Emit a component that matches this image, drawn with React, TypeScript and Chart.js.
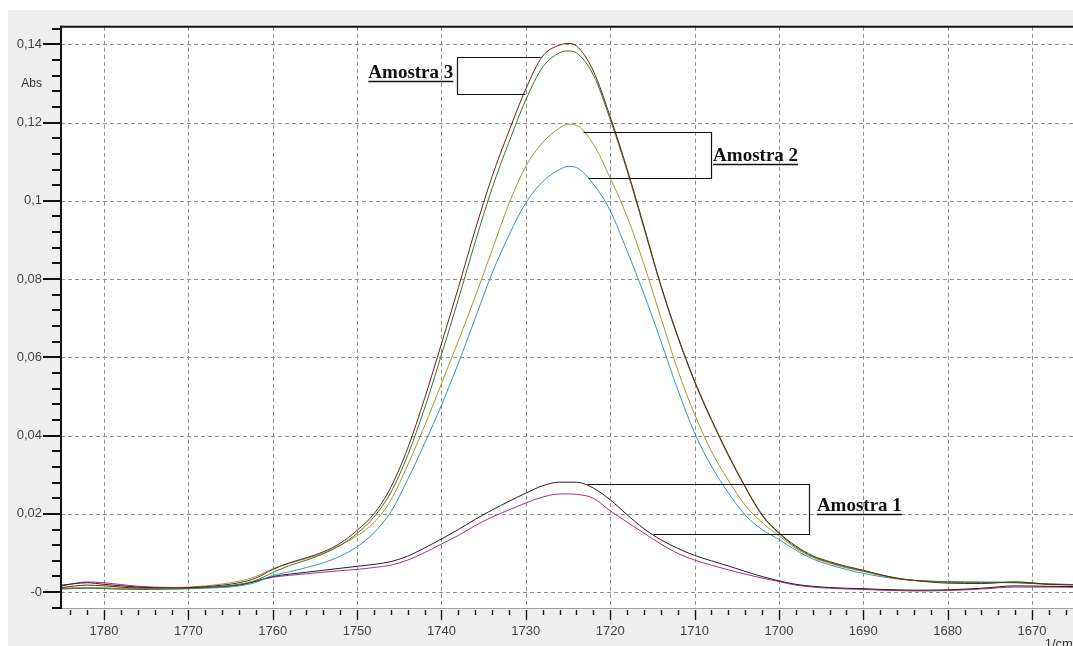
import { useEffect, useRef } from "react";
import { Chart, registerables } from "chart.js";

Chart.register(...registerables);

// Wavenumbers (1/cm) shared by all spectra
const WAVENUMBERS = [
  1785, 1782, 1780, 1776, 1772, 1768, 1764, 1762, 1760, 1758, 1756, 1754, 1752, 1750,
  1748, 1746, 1744, 1742, 1740, 1738, 1736, 1734, 1732, 1730, 1728, 1726, 1725, 1724,
  1722, 1720, 1718, 1716, 1714, 1712, 1710, 1708, 1706, 1704, 1702, 1700, 1698, 1696,
  1694, 1692, 1690, 1688, 1686, 1684, 1680, 1676, 1672, 1668, 1664,
];

const AMOSTRA3_A = [
  0.0012, 0.0018, 0.0016, 0.0011, 0.0011, 0.0014, 0.0024, 0.0036, 0.0058, 0.0075, 0.0088, 0.0103, 0.0125, 0.0158,
  0.02, 0.0268, 0.0368, 0.0495, 0.0635, 0.0778, 0.0926, 0.1062, 0.1178, 0.1286, 0.137, 0.1398, 0.1402, 0.1396,
  0.1332, 0.1215, 0.1082, 0.0935, 0.0785, 0.0655, 0.054, 0.0442, 0.0352, 0.027, 0.0198, 0.0152, 0.0118, 0.0093,
  0.0078, 0.0066, 0.0056, 0.0045, 0.0036, 0.003, 0.0023, 0.0022, 0.0026, 0.002, 0.0018,
];

const AMOSTRA3_B = [
  0.0008, 0.001, 0.0009, 0.0007, 0.0008, 0.0012, 0.002, 0.003, 0.005, 0.0068, 0.0082, 0.0098, 0.012, 0.015,
  0.0192, 0.0255, 0.035, 0.047, 0.0607, 0.0748, 0.0895, 0.1032, 0.115, 0.1258, 0.1342, 0.1378, 0.1383, 0.1378,
  0.1322, 0.1208, 0.1077, 0.093, 0.0782, 0.0652, 0.0537, 0.0439, 0.0349, 0.0268, 0.0196, 0.015, 0.0115, 0.0091,
  0.0076, 0.0064, 0.0054, 0.0044, 0.0035, 0.003, 0.0026, 0.0025, 0.0024, 0.002, 0.0019,
];

const AMOSTRA2_A = [
  0.001, 0.0012, 0.0011, 0.0009, 0.0011, 0.0016, 0.0028, 0.004, 0.006, 0.0074, 0.0086, 0.01, 0.012, 0.0144,
  0.0178, 0.0235, 0.0325, 0.0425, 0.0533, 0.0642, 0.0755, 0.0874, 0.0993, 0.1088, 0.1149, 0.1186, 0.1196, 0.1193,
  0.1145, 0.1058, 0.096, 0.0838, 0.0702, 0.0568, 0.0455, 0.036, 0.0286, 0.0222, 0.0178, 0.0144, 0.0112, 0.0089,
  0.0074, 0.0062, 0.0053, 0.0043, 0.0035, 0.003, 0.0025, 0.0024, 0.0026, 0.0021, 0.0019,
];

const AMOSTRA2_B = [
  0.0009, 0.0011, 0.001, 0.0008, 0.0008, 0.001, 0.0016, 0.0025, 0.0043, 0.0052, 0.0063, 0.0075, 0.0092, 0.0116,
  0.0152, 0.0205, 0.0288, 0.038, 0.0478, 0.0585, 0.07, 0.0815, 0.0912, 0.0995, 0.1049, 0.108, 0.1088, 0.1085,
  0.1043, 0.0975, 0.0872, 0.0762, 0.0642, 0.0518, 0.0407, 0.0322, 0.0254, 0.0197, 0.016, 0.0135, 0.0107, 0.0085,
  0.007, 0.0058, 0.0048, 0.004, 0.0034, 0.003, 0.0027, 0.0026, 0.0025, 0.0021, 0.0019,
];

const AMOSTRA1_A = [
  0.0018, 0.0024, 0.002, 0.0013, 0.0011, 0.0012, 0.0018, 0.0028, 0.004, 0.0046, 0.0051, 0.0056, 0.0061, 0.0066,
  0.0071, 0.0078, 0.0092, 0.0113, 0.0136, 0.016, 0.0186, 0.021, 0.0232, 0.0253, 0.0272, 0.0281, 0.0281, 0.0281,
  0.0266, 0.0236, 0.0198, 0.0162, 0.0134, 0.0112, 0.0094, 0.008, 0.0067, 0.0053, 0.004, 0.0029, 0.002, 0.0015,
  0.0012, 0.001, 0.0009, 0.0007, 0.0006, 0.0005, 0.0006, 0.001, 0.0016, 0.0015, 0.0014,
];

const AMOSTRA1_B = [
  0.0016, 0.0026, 0.0024, 0.0015, 0.0012, 0.0012, 0.0018, 0.0028, 0.0038, 0.0043, 0.0047, 0.0051, 0.0055, 0.0058,
  0.0063, 0.0069, 0.0082, 0.0101, 0.0123, 0.0145, 0.017, 0.0192, 0.021, 0.0228, 0.0243, 0.0251, 0.0251, 0.025,
  0.024, 0.0208, 0.0179, 0.0151, 0.0123, 0.0099, 0.0082, 0.0069, 0.0057, 0.0046, 0.0036, 0.0027, 0.0018, 0.0013,
  0.001, 0.0008, 0.0007, 0.0005, 0.0004, 0.0003, 0.0004, 0.0008, 0.0013, 0.0013, 0.0012,
];

const SERIES_NAMES = ["Amostra 3 (a)", "Amostra 3 (b)", "Amostra 2 (a)", "Amostra 2 (b)", "Amostra 1 (a)", "Amostra 1 (b)"];
const SERIES_VALUES = [AMOSTRA3_A, AMOSTRA3_B, AMOSTRA2_A, AMOSTRA2_B, AMOSTRA1_A, AMOSTRA1_B];
const SERIES_COLORS = ["#6e2016", "#2b7a33", "#a39c2a", "#3a92bd", "#2a1c1c", "#a3308f"];

const X_TICKS = [1780, 1770, 1760, 1750, 1740, 1730, 1720, 1710, 1700, 1690, 1680, 1670];
const X_TICK_LABELS = ["1780", "1770", "1760", "1750", "1740", "1730", "1720", "1710", "1700", "1690", "1680", "1670"];
const Y_TICKS = [0, 0.02, 0.04, 0.06, 0.08, 0.1, 0.12, 0.14];
const Y_TICK_LABELS = ["-0", "0,02", "0,04", "0,06", "0,08", "0,1", "0,12", "0,14"];

const X_UNIT = "1/cm";
const Y_UNIT = "Abs";

// Annotation boxes in data coordinates (wavenumber, absorbance)
const ANNOTATIONS = [
  {
    text: "Amostra 3",
    align: "right",
    at: [1738.6, 0.1313],
    path: [[1728.3, 0.1367], [1738.2, 0.1367], [1738.2, 0.1273], [1730.1, 0.1273]],
  },
  {
    text: "Amostra 2",
    align: "left",
    at: [1707.8, 0.1103],
    path: [[1723.2, 0.1177], [1708.05, 0.1177], [1708.05, 0.1058], [1722.6, 0.1058]],
  },
  {
    text: "Amostra 1",
    align: "left",
    at: [1695.5, 0.0207],
    path: [[1722.7, 0.0276], [1696.4, 0.0276], [1696.4, 0.0149], [1714.9, 0.0149]],
  },
];

const SANS = '"Liberation Sans", Arial, sans-serif';

const decorPlugin = {
  id: "decor",
  beforeDraw(chart: any) {
    const { ctx, chartArea: a, width, height } = chart;
    const xs = chart.scales.x;
    const ys = chart.scales.y;
    ctx.save();
    ctx.fillStyle = "#ffffff";
    ctx.fillRect(0, 0, width, height);
    ctx.fillStyle = "#efefef";
    ctx.fillRect(8, 10, width - 8, height - 10);
    ctx.fillStyle = "#ffffff";
    ctx.fillRect(a.left, a.top, a.right - a.left, a.bottom - a.top);

    ctx.strokeStyle = "#8f8f8f";
    ctx.lineWidth = 1;
    ctx.setLineDash([4, 3]);
    for (const v of X_TICKS) {
      const px = Math.round(xs.getPixelForValue(v)) + 0.5;
      ctx.beginPath();
      ctx.moveTo(px, a.top);
      ctx.lineTo(px, a.bottom);
      ctx.stroke();
    }
    for (const v of Y_TICKS) {
      const py = Math.round(ys.getPixelForValue(v)) + 0.5;
      ctx.beginPath();
      ctx.moveTo(a.left, py);
      ctx.lineTo(a.right, py);
      ctx.stroke();
    }
    ctx.setLineDash([]);
    ctx.restore();
  },
  afterDatasetsDraw(chart: any) {
    const { ctx, chartArea: a } = chart;
    const xs = chart.scales.x;
    const ys = chart.scales.y;
    ctx.save();

    // x axis baseline
    ctx.strokeStyle = "#a0a0a0";
    ctx.lineWidth = 1;
    ctx.beginPath();
    ctx.moveTo(a.left, Math.round(a.bottom) + 0.5);
    ctx.lineTo(a.right, Math.round(a.bottom) + 0.5);
    ctx.stroke();

    // top border and y axis line
    ctx.strokeStyle = "#111111";
    ctx.lineWidth = 2;
    ctx.beginPath();
    ctx.moveTo(a.left - 1, a.top);
    ctx.lineTo(a.right, a.top);
    ctx.stroke();
    ctx.beginPath();
    ctx.moveTo(a.left, a.top - 1);
    ctx.lineTo(a.left, a.bottom + 1);
    ctx.stroke();

    // y ticks (major every 0.02, minor every 0.004)
    for (let i = -1; i <= 36; i++) {
      const v = i * 0.004;
      const py = Math.round(ys.getPixelForValue(v));
      const len = i % 5 === 0 ? 18 : 9;
      ctx.beginPath();
      ctx.moveTo(a.left - len, py);
      ctx.lineTo(a.left, py);
      ctx.stroke();
    }

    // x ticks (major every 10, minor every 2)
    ctx.lineWidth = 1.4;
    for (let w = 1784; w >= 1662; w -= 2) {
      const px = Math.round(xs.getPixelForValue(w)) + 0.5;
      const len = w % 10 === 0 ? 10 : 5;
      ctx.beginPath();
      ctx.moveTo(px, a.bottom + 2);
      ctx.lineTo(px, a.bottom + 2 + len);
      ctx.stroke();
    }

    // unit labels
    ctx.fillStyle = "#333333";
    ctx.font = `12px ${SANS}`;
    ctx.textAlign = "right";
    ctx.textBaseline = "middle";
    ctx.fillText(Y_UNIT, a.left - 19, ys.getPixelForValue(0.13));
    ctx.textAlign = "left";
    ctx.textBaseline = "top";
    ctx.font = `13px ${SANS}`;
    ctx.fillText(X_UNIT, xs.getPixelForValue(1668.5), a.bottom + 30);

    // annotations
    ctx.strokeStyle = "#111111";
    ctx.lineWidth = 1.2;
    for (const an of ANNOTATIONS) {
      ctx.beginPath();
      an.path.forEach((p, i) => {
        const px = Math.round(xs.getPixelForValue(p[0])) + 0.5;
        const py = Math.round(ys.getPixelForValue(p[1])) + 0.5;
        if (i === 0) ctx.moveTo(px, py);
        else ctx.lineTo(px, py);
      });
      ctx.stroke();

      ctx.font = `bold 19px "Liberation Serif", "Times New Roman", serif`;
      ctx.fillStyle = "#111111";
      ctx.textBaseline = "alphabetic";
      ctx.textAlign = an.align as CanvasTextAlign;
      const tx = xs.getPixelForValue(an.at[0]);
      const ty = ys.getPixelForValue(an.at[1]);
      ctx.fillText(an.text, tx, ty);
      const tw = ctx.measureText(an.text).width;
      const x0 = an.align === "right" ? tx - tw : tx;
      ctx.lineWidth = 1.5;
      ctx.beginPath();
      ctx.moveTo(x0, Math.round(ty) + 3.5);
      ctx.lineTo(x0 + tw, Math.round(ty) + 3.5);
      ctx.stroke();
      ctx.lineWidth = 1.2;
    }
    ctx.restore();
  },
};

export default function App() {
  const ref = useRef<HTMLCanvasElement | null>(null);

  useEffect(() => {
    if (!ref.current) return;
    const chart = new Chart(ref.current, {
      type: "line",
      data: {
        datasets: SERIES_VALUES.map((vals, si) => ({
          label: SERIES_NAMES[si],
          data: WAVENUMBERS.map((w, i) => ({ x: w, y: vals[i] })),
          borderColor: SERIES_COLORS[si],
          backgroundColor: SERIES_COLORS[si],
          borderWidth: 1,
          pointRadius: 0,
          fill: false,
          cubicInterpolationMode: "monotone" as const,
        })),
      },
      options: {
        animation: false,
        responsive: false,
        maintainAspectRatio: false,
        devicePixelRatio: 1,
        layout: { padding: { top: 21, left: 0, right: 0, bottom: 0 } },
        plugins: { legend: { display: false }, tooltip: { enabled: false } },
        events: [],
        scales: {
          x: {
            type: "linear",
            reverse: true,
            min: 1661.94,
            max: 1785.1,
            grid: { display: false, drawTicks: false },
            border: { display: false },
            afterBuildTicks: (s: any) => {
              s.ticks = X_TICKS.map((v) => ({ value: v }));
            },
            afterFit: (s: any) => {
              s.height = 38;
            },
            ticks: {
              autoSkip: false,
              maxRotation: 0,
              padding: 16,
              color: "#444444",
              font: { family: SANS, size: 13 },
              callback: (v: any) => X_TICK_LABELS[X_TICKS.indexOf(Number(v))] ?? "",
            },
          },
          y: {
            type: "linear",
            min: -0.00405,
            max: 0.14447,
            grid: { display: false, drawTicks: false },
            border: { display: false },
            afterBuildTicks: (s: any) => {
              s.ticks = Y_TICKS.map((v) => ({ value: v }));
            },
            afterFit: (s: any) => {
              s.width = 61;
            },
            ticks: {
              autoSkip: false,
              padding: 19,
              color: "#444444",
              font: { family: SANS, size: 13 },
              callback: (v: any) => Y_TICK_LABELS[Y_TICKS.indexOf(Number(v))] ?? "",
            },
          },
        },
      },
      plugins: [decorPlugin],
    });
    return () => chart.destroy();
  }, []);

  return (
    <div
      style={{
        position: "fixed",
        left: 0,
        top: 0,
        width: 1073,
        height: 646,
        overflow: "hidden",
        background: "#ffffff",
      }}
    >
      <canvas ref={ref} width={1100} height={646} style={{ display: "block" }} />
    </div>
  );
}
